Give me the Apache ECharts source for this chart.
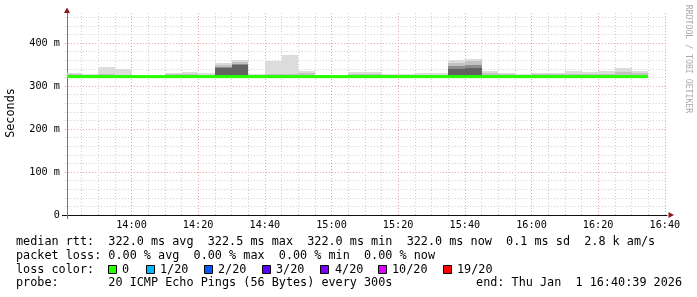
<!DOCTYPE html>
<html><head><meta charset="utf-8">
<script src="https://cdn.jsdelivr.net/npm/echarts@6/dist/echarts.min.js"></script>
<style>html,body{margin:0;padding:0;background:#fff}#c{width:697px;height:297px}</style>
</head><body><div id="c"></div>
<script>
// ---------- data ----------
const windowStart = '13:40:39';
const windowEnd = '16:40:39';
const binEnds = ['13:45','13:50','13:55','14:00','14:05','14:10','14:15','14:20','14:25','14:30',
  '14:35','14:40','14:45','14:50','14:55','15:00','15:05','15:10','15:15','15:20',
  '15:25','15:30','15:35','15:40','15:45','15:50','15:55','16:00','16:05','16:10',
  '16:15','16:20','16:25','16:30','16:35'];
const median = [322,322,322,322,322,322,322,322,322,322,
  322,322,322,322,322,322,322,322,322,322,
  322,322,322,322,322,322,322,322,322,322,
  322,322,322,322,322];
const lossIdx = [0,0,0,0,0,0,0,0,0,0,0,0,0,0,0,0,0,0,0,0,0,0,0,0,0,0,0,0,0,0,0,0,0,0,0];
const smokeLight = [331,328,344,340,323,323,331,333,330,353,
  360,328,359,372,336,325,323,333,333,328,
  328,330,330,360,363,336,330,328,331,331,
  334,332,335,342,336];
const smokeMid = [327,325,327,326,322,322,327,327,325,349,
  356,325,327,329,330,323,322,327,327,325,
  325,326,326,354,358,330,327,325,327,327,
  328,327,328,333,330];
const smokeDark2 = [322,322,322,322,322,322,322,322,322,345,
  351,322,322,322,322,322,322,322,322,322,
  322,322,322,347,350,322,322,322,322,322,
  322,322,322,322,322];
const smokeDark = [322,322,322,322,322,322,322,322,322,342,
  348,322,322,322,322,322,322,322,322,322,
  322,322,322,340,343,322,322,322,322,322,
  322,322,322,322,322];
const yMajorTicks = [0,100,200,300,400];
const lossLabels = ['0','1/20','2/20','3/20','4/20','10/20','19/20'];
const statsRtt = 'median rtt:  322.0 ms avg  322.5 ms max  322.0 ms min  322.0 ms now  0.1 ms sd  2.8 k am/s';
const statsLoss = 'packet loss: 0.00 % avg  0.00 % max  0.00 % min  0.00 % now';
const probeText = 'probe:       20 ICMP Echo Pings (56 Bytes) every 300s';
const endText = 'end: Thu Jan  1 16:40:39 2026';

// ---------- styles ----------
const lossColors = ['#26ff00','#00b8ff','#0059ff','#5e00ff','#7e00ff','#dd00ff','#ff0000'];
const smokeColors = ['#dcdcdc','#c2c2c2','#8e8e8e','#626262'];
const MONO = 'DejaVu Sans Mono';
const minorC = '#cfcfcf', majorC = '#e4a4a4';
const DASH = [1,2];

function toMin(s){ const p = s.split(':').map(Number); return p[0]*60 + p[1] + (p[2]||0)/60; }
const xStart = toMin(windowStart), xEnd = toMin(windowEnd);
const xMin = Math.floor(xStart/20)*20;
function pad(n){ return (n<10?'0':'')+n; }
function fmtTime(v){ const h=Math.floor(v/60), m=Math.round(v-h*60); return pad(h)+':'+pad(m); }

const smokeData = [], medData = [];
const layers = [smokeLight, smokeMid, smokeDark2, smokeDark];
binEnds.forEach((b,i)=>{
  const e = toMin(b), s = Math.max(e-5, xStart);
  layers.forEach((arr,k)=>{ smokeData.push([s, e, median[i], arr[i], k]); });
  medData.push([s, e, median[i], median[i], lossIdx[i]]);
});

const chart = echarts.init(document.getElementById('c'), null, {renderer:'canvas'});
const gridLeft = 67 - (xStart - xMin) * (600/180);

chart.setOption({
  animation:false,
  backgroundColor:'#ffffff',
  grid:{left:gridLeft, right:30, top:13, bottom:82, containLabel:false},
  xAxis:[
    {type:'value', min:xMin, max:xEnd, interval:5, position:'bottom',
     axisLine:{show:true, lineStyle:{color:'#111', width:1}}, axisTick:{show:false}, axisLabel:{show:false},
     splitLine:{show:true, showMaxLine:false, lineStyle:{color:['rgba(0,0,0,0)',minorC,minorC,minorC], type:DASH, width:1}}},
    {type:'value', min:xMin, max:xEnd, interval:20, position:'bottom',
     axisLine:{show:false}, axisTick:{show:false},
     axisLabel:{show:true, margin:5, fontFamily:MONO, fontSize:10.2, color:'#000',
       formatter:v=> (Math.abs(v-Math.round(v))<1e-6 && Math.round(v)%20===0 && v>xStart) ? fmtTime(v) : ''},
     splitLine:{show:true, showMinLine:false, showMaxLine:false, lineStyle:{color:majorC, type:DASH, width:1}}}
  ],
  yAxis:[
    {type:'value', min:0, max:470, interval:20, position:'left', offset:-(67-gridLeft),
     axisLine:{show:true, lineStyle:{color:'#777', width:1}}, axisTick:{show:false}, axisLabel:{show:false},
     splitLine:{show:true, showMaxLine:false, lineStyle:{color:['rgba(0,0,0,0)',minorC,minorC,minorC,minorC], type:DASH, width:1}}},
    {type:'value', min:0, max:470, interval:100, position:'left', offset:-(67-gridLeft),
     axisLine:{show:false}, axisTick:{show:false},
     axisLabel:{show:true, margin:7, fontFamily:MONO, fontSize:10.2, color:'#000',
       formatter:v=> yMajorTicks.indexOf(v)<0 ? '' : (v===0 ? '0' : v+' m')},
     splitLine:{show:true, showMinLine:false, showMaxLine:false, lineStyle:{color:majorC, type:DASH, width:1}}}
  ],
  series:[
    {type:'custom', xAxisIndex:0, yAxisIndex:0, data:smokeData, clip:true,
     encode:{x:[0,1], y:[2,3]},
     renderItem:(params, api)=>{
       const a = api.coord([api.value(0), api.value(3)]);
       const b = api.coord([api.value(1), api.value(2)]);
       const x0 = Math.round(a[0]), x1 = Math.round(b[0]);
       const y0 = Math.round(a[1]), y1 = Math.round(b[1]);
       if (y1 - y0 <= 0) return null;
       return {type:'rect', shape:{x:x0, y:y0, width:x1-x0, height:y1-y0}, style:{fill:smokeColors[api.value(4)]}};
     }},
    {type:'custom', xAxisIndex:0, yAxisIndex:0, data:medData, clip:true,
     encode:{x:[0,1], y:[2,3]},
     renderItem:(params, api)=>{
       const a = api.coord([api.value(0), api.value(2)]);
       const b = api.coord([api.value(1), api.value(3)]);
       return {type:'line', shape:{x1:Math.round(a[0]), y1:a[1], x2:Math.round(b[0]), y2:b[1]},
         style:{stroke:lossColors[api.value(4)], lineWidth:3, lineCap:'butt'}};
     }}
  ],
  graphic:(function(){
    const g = [];
    g.push({type:'polygon', shape:{points:[[64,13],[70,13],[67,7.5]]}, style:{fill:'#8b1a1a'}, z:100});
    g.push({type:'polygon', shape:{points:[[668.5,212],[668.5,218],[674,215]]}, style:{fill:'#8b1a1a'}, z:100});
    g.push({type:'line', shape:{x1:62, y1:215.5, x2:66, y2:215.5}, style:{stroke:'#111', lineWidth:1}, z:100});
    g.push({type:'line', shape:{x1:67.5, y1:215, x2:67.5, y2:219}, style:{stroke:'#777', lineWidth:1}, z:100});
    g.push({type:'text', x:11, y:113, rotation:Math.PI/2, style:{text:'Seconds', font:'11.8px "'+MONO+'"', fill:'#000', align:'center', verticalAlign:'middle'}});
    g.push({type:'text', x:688, y:59, rotation:-Math.PI/2, style:{text:'RRDTOOL / TOBI OETIKER', font:'8.2px "'+MONO+'"', fill:'#aaaaaa', align:'center', verticalAlign:'middle'}});
    const f = '11.8px "'+MONO+'"';
    g.push({type:'text', x:16, y:241.5, style:{text:statsRtt, font:f, fill:'#000', verticalAlign:'middle'}});
    g.push({type:'text', x:16, y:255.5, style:{text:statsLoss, font:f, fill:'#000', verticalAlign:'middle'}});
    g.push({type:'text', x:16, y:269.5, style:{text:'loss color:', font:f, fill:'#000', verticalAlign:'middle'}});
    g.push({type:'text', x:16, y:283, style:{text:probeText, font:f, fill:'#000', verticalAlign:'middle'}});
    g.push({type:'text', x:682, y:283, style:{text:endText, font:f, fill:'#000', align:'right', verticalAlign:'middle'}});
    const boxX = [108, 146, 204, 262, 320, 378, 443];
    const labX = [122, 160, 218, 276, 335, 392, 457];
    lossLabels.forEach((l,i)=>{
      g.push({type:'rect', shape:{x:boxX[i]+0.5, y:265.5, width:8, height:8}, style:{fill:lossColors[i], stroke:'#000', lineWidth:1}});
      g.push({type:'text', x:labX[i], y:269.5, style:{text:l, font:f, fill:'#000', verticalAlign:'middle'}});
    });
    return g;
  })()
});
</script></body></html>
